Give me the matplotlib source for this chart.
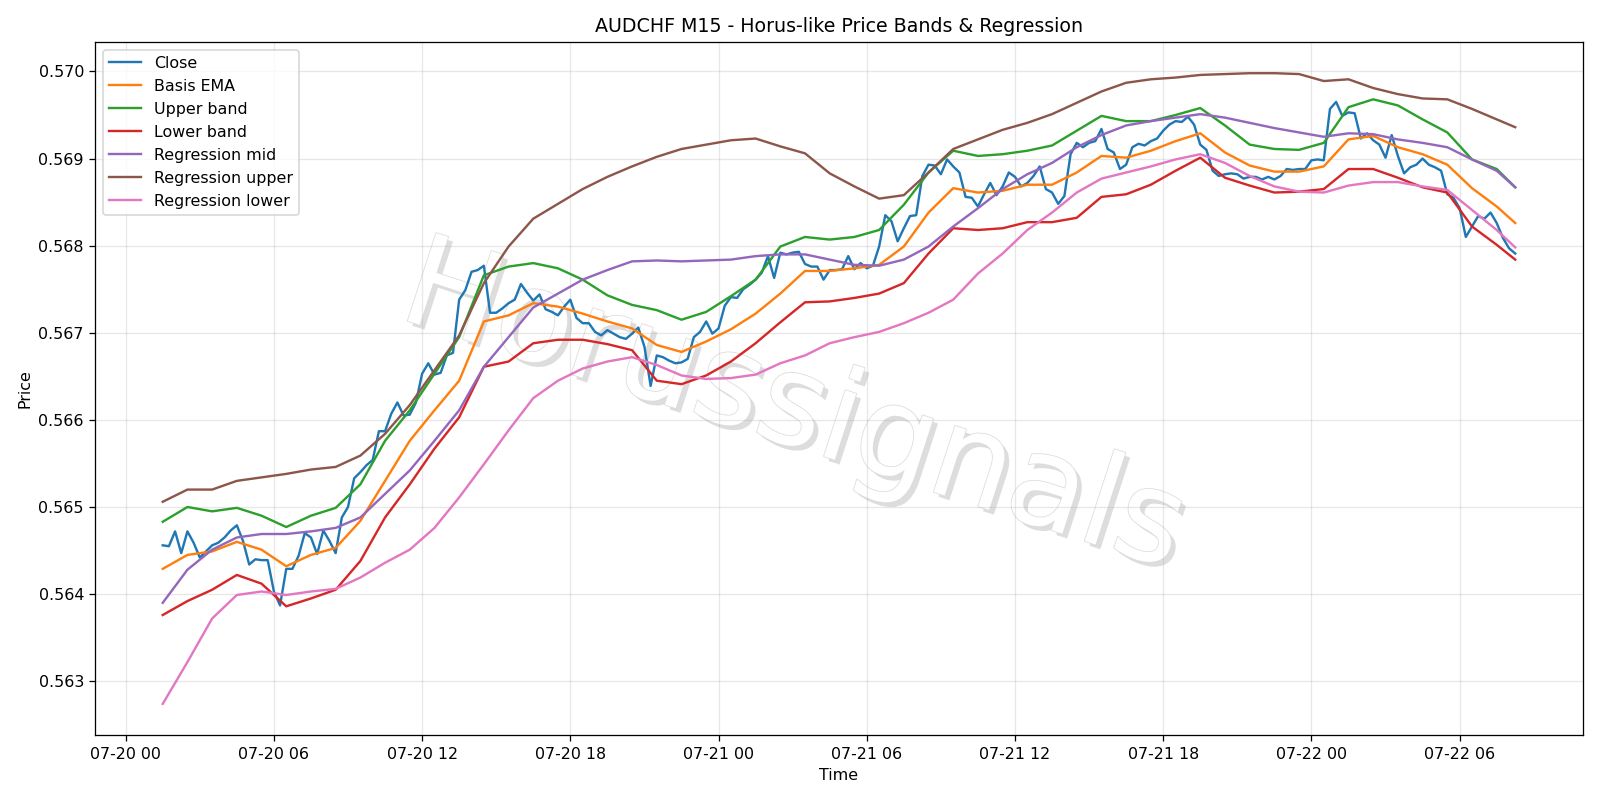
"""AUDCHF M15 price with Horus-like bands and regression channel."""
import matplotlib
matplotlib.use("Agg")
import matplotlib.dates as mdates
import matplotlib.patheffects as pe
import matplotlib.pyplot as plt
import numpy as np
import pandas as pd

# 15-minute closes, 07-20 01:30 .. 07-22 08:15
close = [
    0.56456, 0.56455, 0.56472, 0.56447, 0.56472, 0.56459, 0.56442, 0.56449,
    0.56456, 0.56459, 0.56465, 0.56473, 0.56479, 0.56461, 0.56434, 0.56440,
    0.56439, 0.56439, 0.56403, 0.56387, 0.56429, 0.56429, 0.56444, 0.56470,
    0.56465, 0.56446, 0.56473, 0.56461, 0.56447, 0.56488, 0.56500, 0.56533,
    0.56540, 0.56548, 0.56554, 0.56587, 0.56587, 0.56607, 0.56620, 0.56605,
    0.56606, 0.56620, 0.56653, 0.56665, 0.56652, 0.56654, 0.56674, 0.56677,
    0.56738, 0.56749, 0.56770, 0.56772, 0.56777, 0.56723, 0.56723, 0.56728,
    0.56734, 0.56738, 0.56756, 0.56746, 0.56737, 0.56744, 0.56727, 0.56724,
    0.56720, 0.56730, 0.56738, 0.56717, 0.56711, 0.56711, 0.56701, 0.56697,
    0.56703, 0.56699, 0.56695, 0.56693, 0.56699, 0.56706, 0.56684, 0.56639,
    0.56674, 0.56672, 0.56668, 0.56665, 0.56666, 0.56670, 0.56695, 0.56701,
    0.56713, 0.56699, 0.56705, 0.56731, 0.56741, 0.56740, 0.56750, 0.56755,
    0.56761, 0.56769, 0.56788, 0.56763, 0.56792, 0.56790, 0.56792, 0.56793,
    0.56779, 0.56776, 0.56776, 0.56761, 0.56772, 0.56772, 0.56773, 0.56788,
    0.56773, 0.56780, 0.56774, 0.56777, 0.56799, 0.56835, 0.56828, 0.56805,
    0.56820, 0.56834, 0.56835, 0.56880, 0.56893, 0.56892, 0.56882, 0.56899,
    0.56891, 0.56884, 0.56856, 0.56855, 0.56845, 0.56859, 0.56872, 0.56858,
    0.56868, 0.56884, 0.56879, 0.56868, 0.56872, 0.56880, 0.56891, 0.56865,
    0.56861, 0.56848, 0.56857, 0.56905, 0.56918, 0.56913, 0.56918, 0.56920,
    0.56934, 0.56911, 0.56907, 0.56888, 0.56893, 0.56913, 0.56917, 0.56915,
    0.56920, 0.56923, 0.56932, 0.56939, 0.56943, 0.56942, 0.56948, 0.56939,
    0.56916, 0.56910, 0.56886, 0.56880, 0.56882, 0.56883, 0.56882, 0.56877,
    0.56879, 0.56879, 0.56876, 0.56879, 0.56876, 0.56880, 0.56888, 0.56887,
    0.56888, 0.56888, 0.56898, 0.56899, 0.56898, 0.56957, 0.56965, 0.56949,
    0.56953, 0.56952, 0.56923, 0.56929, 0.56921, 0.56916, 0.56901, 0.56927,
    0.56903, 0.56883, 0.56890, 0.56893, 0.56900, 0.56893, 0.56890, 0.56886,
    0.56859, 0.56855, 0.56843, 0.56810, 0.56822, 0.56834, 0.56831, 0.56838,
    0.56826, 0.56809, 0.56797, 0.56791,
]

# smooth indicators, read hourly (every 4th bar) plus the last bar
basis_ema = [
    0.56429, 0.56445, 0.56449, 0.56460, 0.56451, 0.56432, 0.56445, 0.56453,
    0.56484, 0.56530, 0.56576, 0.56611, 0.56645, 0.56713, 0.56720, 0.56734,
    0.56730, 0.56722, 0.56713, 0.56705, 0.56686, 0.56678, 0.56690, 0.56704,
    0.56722, 0.56745, 0.56771, 0.56771, 0.56774, 0.56778, 0.56799,
    0.56838, 0.56866, 0.56861, 0.56863, 0.56870, 0.56870, 0.56884, 0.56903,
    0.56901, 0.56909, 0.56920, 0.56929, 0.56907, 0.56892, 0.56885, 0.56885,
    0.56891, 0.56922, 0.56926, 0.56913, 0.56905, 0.56893, 0.56866, 0.56845, 0.56826,
]
upper_band = [
    0.56483, 0.56500, 0.56495, 0.56499, 0.56490, 0.56477, 0.56490, 0.56499,
    0.56526, 0.56576, 0.56611, 0.56653, 0.56695, 0.56766, 0.56776, 0.56780,
    0.56774, 0.56761, 0.56743, 0.56732, 0.56726, 0.56715, 0.56724, 0.56742,
    0.56761, 0.56799, 0.56810, 0.56807, 0.56810, 0.56818, 0.56847,
    0.56884, 0.56909, 0.56903, 0.56905, 0.56909, 0.56915, 0.56932, 0.56949,
    0.56943, 0.56943, 0.56950, 0.56958, 0.56938, 0.56916, 0.56911, 0.56910,
    0.56918, 0.56959, 0.56968, 0.56961, 0.56945, 0.56930, 0.56899, 0.56888, 0.56867,
]
lower_band = [
    0.56376, 0.56392, 0.56405, 0.56422, 0.56412, 0.56386, 0.56395, 0.56405,
    0.56438, 0.56488, 0.56526, 0.56567, 0.56603, 0.56661, 0.56667, 0.56688,
    0.56692, 0.56692, 0.56687, 0.56680, 0.56645, 0.56641, 0.56651, 0.56667,
    0.56688, 0.56712, 0.56735, 0.56736, 0.56740, 0.56745, 0.56757,
    0.56791, 0.56820, 0.56818, 0.56820, 0.56827, 0.56827, 0.56832, 0.56856,
    0.56859, 0.56870, 0.56886, 0.56901, 0.56878, 0.56869, 0.56861, 0.56862,
    0.56865, 0.56888, 0.56888, 0.56878, 0.56867, 0.56861, 0.56822, 0.56801, 0.56784,
]
reg_mid = [
    0.56390, 0.56428, 0.56451, 0.56465, 0.56469, 0.56469, 0.56472, 0.56476,
    0.56488, 0.56515, 0.56542, 0.56576, 0.56611, 0.56661, 0.56695, 0.56729,
    0.56745, 0.56761, 0.56772, 0.56782, 0.56783, 0.56782, 0.56783, 0.56784,
    0.56788, 0.56790, 0.56790, 0.56784, 0.56778, 0.56777, 0.56784,
    0.56799, 0.56822, 0.56843, 0.56865, 0.56882, 0.56895, 0.56913, 0.56927,
    0.56938, 0.56943, 0.56947, 0.56951, 0.56947, 0.56941, 0.56935, 0.56930,
    0.56925, 0.56929, 0.56928, 0.56922, 0.56918, 0.56913, 0.56899, 0.56886, 0.56867,
]
reg_upper = [
    0.56506, 0.56520, 0.56520, 0.56530, 0.56534, 0.56538, 0.56543, 0.56546,
    0.56559, 0.56584, 0.56617, 0.56657, 0.56697, 0.56757, 0.56799, 0.56831,
    0.56848, 0.56865, 0.56879, 0.56891, 0.56902, 0.56911, 0.56916, 0.56921,
    0.56923, 0.56914, 0.56906, 0.56883, 0.56868, 0.56854, 0.56858,
    0.56884, 0.56911, 0.56922, 0.56933, 0.56941, 0.56951, 0.56964, 0.56977,
    0.56987, 0.56991, 0.56993, 0.56996, 0.56997, 0.56998, 0.56998, 0.56997,
    0.56989, 0.56991, 0.56981, 0.56974, 0.56969, 0.56968, 0.56957, 0.56945, 0.56936,
]
reg_lower = [
    0.56274, 0.56322, 0.56372, 0.56399, 0.56403, 0.56399, 0.56403, 0.56406,
    0.56419, 0.56436, 0.56451, 0.56476, 0.56511, 0.56549, 0.56588, 0.56625,
    0.56645, 0.56659, 0.56667, 0.56672, 0.56663, 0.56651, 0.56647, 0.56648,
    0.56652, 0.56665, 0.56674, 0.56688, 0.56695, 0.56701, 0.56711,
    0.56723, 0.56738, 0.56768, 0.56791, 0.56818, 0.56838, 0.56861, 0.56877,
    0.56884, 0.56891, 0.56899, 0.56905, 0.56895, 0.56880, 0.56868, 0.56862,
    0.56861, 0.56869, 0.56873, 0.56873, 0.56868, 0.56864, 0.56841, 0.56818, 0.56798,
]

times = pd.date_range("2025-07-20 01:30", periods=len(close), freq="15min")
times_h = times[::4].append(times[-1:])

DPI = 1600 / 14
fig, ax = plt.subplots(figsize=(14, 7), dpi=DPI)

ax.plot(times, close, label="Close")
ax.plot(times_h, basis_ema, label="Basis EMA")
ax.plot(times_h, upper_band, label="Upper band")
ax.plot(times_h, lower_band, label="Lower band")
ax.plot(times_h, reg_mid, label="Regression mid")
ax.plot(times_h, reg_upper, label="Regression upper")
ax.plot(times_h, reg_lower, label="Regression lower")

ax.set_title("AUDCHF M15 - Horus-like Price Bands & Regression")
ax.set_xlabel("Time")
ax.set_ylabel("Price")
ax.xaxis.set_major_locator(mdates.HourLocator(byhour=[0, 6, 12, 18]))
ax.xaxis.set_major_formatter(mdates.DateFormatter("%m-%d %H"))
ax.ticklabel_format(axis="y", useOffset=False)
ax.grid(True, alpha=0.3)
ax.legend(loc="upper left")

fig.tight_layout()

# watermark, placed in figure coords but kept under the lines
ax.text(0.496, 0.488, "Horussignals", transform=fig.transFigure, fontsize=80,
        rotation=-18, ha="center", va="center", color="white", zorder=1,
        path_effects=[pe.SimplePatchShadow(offset=(3, -3), shadow_rgbFace="#bcbcbc",
                                           alpha=0.5),
                      pe.Stroke(linewidth=1.0, foreground="#dcdcdc"),
                      pe.Normal()])

fig.savefig("out.png", dpi=DPI)
plt.close(fig)
